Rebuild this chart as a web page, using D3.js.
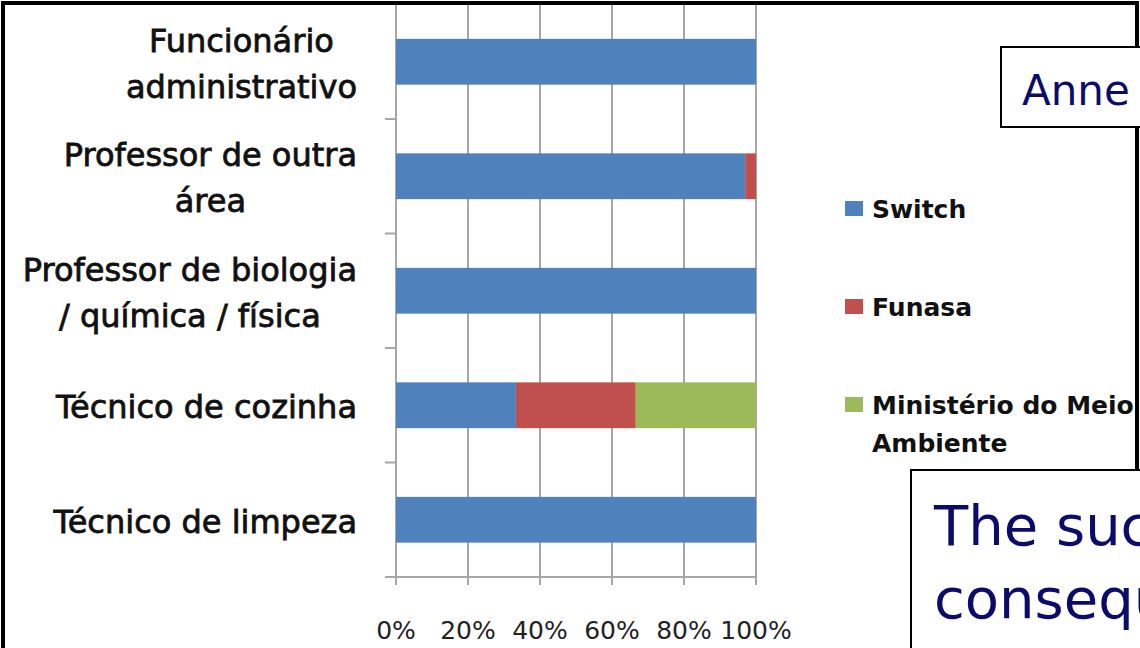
<!DOCTYPE html>
<html><head><meta charset="utf-8">
<script src="https://cdn.jsdelivr.net/npm/d3@7"></script>
<style>html,body{margin:0;padding:0;background:#fff;overflow:hidden}</style>
</head><body>
<svg id="c" width="1140" height="648"></svg>
<script>
const categories = [
  ["Funcionário","administrativo"],
  ["Professor de outra","área"],
  ["Professor de biologia","/ química / física"],
  ["Técnico de cozinha"],
  ["Técnico de limpeza"]
];
const seriesNames = ["Switch","Funasa","Ministério do Meio Ambiente"];
const switchVals = [100, 97, 100, 33.3, 100];
const funasaVals = [0, 3, 0, 33.3, 0];
const mmaVals = [0, 0, 0, 33.4, 0];
const xTicks = [0, 20, 40, 60, 80, 100];
const colors = ["#4F81BD","#C0504D","#9BBB59"];

const svg = d3.select("#c");
const x = d3.scaleLinear().domain([0,100]).range([396,756]);
const y = d3.scaleBand().domain(d3.range(categories.length)).range([4.5,577]).paddingInner(0.6).paddingOuter(0.3);
const yb = d3.scaleBand().domain(d3.range(categories.length)).range([4.5,577]);

// gridlines
svg.append("g").selectAll("line").data(xTicks).join("line")
  .attr("x1",d=>x(d)).attr("x2",d=>x(d)).attr("y1",4).attr("y2",585)
  .attr("stroke","#a6a6a6").attr("stroke-width",2);
// y axis line + ticks
svg.append("line").attr("x1",396).attr("x2",396).attr("y1",4).attr("y2",577).attr("stroke","#a6a6a6").attr("stroke-width",2);
svg.append("g").selectAll("line").data(d3.range(categories.length)).join("line")
  .attr("x1",385).attr("x2",396).attr("y1",d=>yb(d)+yb.bandwidth()).attr("y2",d=>yb(d)+yb.bandwidth())
  .attr("stroke","#a6a6a6").attr("stroke-width",2);
// x axis line
svg.append("line").attr("x1",385).attr("x2",756).attr("y1",577).attr("y2",577).attr("stroke","#a6a6a6").attr("stroke-width",2);

// stacked bars
const rows = categories.map((c,i)=>({i, s:switchVals[i], f:funasaVals[i], m:mmaVals[i]}));
const stack = d3.stack().keys(["s","f","m"])(rows);
svg.append("g").selectAll("g").data(stack).join("g").attr("fill",(d,k)=>colors[k])
  .selectAll("rect").data(d=>d).join("rect")
  .attr("x",d=>x(d[0])).attr("width",d=>Math.max(0,x(d[1])-x(d[0])))
  .attr("y",d=>y(d.data.i)).attr("height",y.bandwidth());

// x tick labels
svg.append("g").selectAll("text").data(xTicks).join("text")
  .attr("x",d=>x(d)).attr("y",639).attr("text-anchor","middle")
  .attr("font-family","DejaVu Sans, sans-serif").attr("font-size",25).attr("fill","#222")
  .text(d=>d+"%");

// category labels
const catG = svg.append("g").attr("font-family","DejaVu Sans, sans-serif").attr("font-size",32)
  .attr("fill","#111").attr("stroke","#111").attr("stroke-width",0.8);
categories.forEach((lines,i)=>{
  const cy = yb(i)+yb.bandwidth()/2 + 2;
  const lh = 46;
  const g = catG.append("g");
  const texts = lines.map((t,j)=> g.append("text").attr("y", cy + (j-(lines.length-1)/2)*lh + 11).text(t));
  const w = d3.max(texts, t=>t.node().getComputedTextLength());
  texts.forEach(t=>t.attr("x",357 - w/2).attr("text-anchor","middle"));
});

// legend
const legY = [208, 306, 404];
const leg = svg.append("g").attr("font-family","DejaVu Sans, sans-serif").attr("font-weight",700).attr("font-size",25).attr("fill","#111");
seriesNames.forEach((n,k)=>{
  leg.append("rect").attr("x",845).attr("y",legY[k]-7).attr("width",18).attr("height",15).attr("fill",colors[k]);
  if(k===2){
    leg.append("text").attr("x",872).attr("y",legY[k]+10).text("Ministério do Meio");
    leg.append("text").attr("x",872).attr("y",legY[k]+48).text("Ambiente");
  } else {
    leg.append("text").attr("x",872).attr("y",legY[k]+10).text(n);
  }
});

// chart frame
svg.append("path").attr("d","M3,648 L3,3 L1137,3 L1137,470").attr("fill","none").attr("stroke","#000").attr("stroke-width",4);

// overlay boxes
svg.append("rect").attr("x",1001).attr("y",47).attr("width",160).attr("height",80).attr("fill","#fff").attr("stroke","#000").attr("stroke-width",2);
svg.append("text").attr("x",1022).attr("y",105).attr("font-family","DejaVu Sans, sans-serif").attr("font-size",42).attr("fill","#0b0b6e").text("Anne");
svg.append("rect").attr("x",911).attr("y",470).attr("width",260).attr("height",200).attr("fill","#fff").attr("stroke","#000").attr("stroke-width",2);
const tb = svg.append("g").attr("font-family","DejaVu Sans, sans-serif").attr("font-size",56).attr("fill","#0b0b6e");
tb.append("text").attr("x",934).attr("y",545).text("The suc");
tb.append("text").attr("x",934).attr("y",618).text("consequ");
</script>
</body></html>
